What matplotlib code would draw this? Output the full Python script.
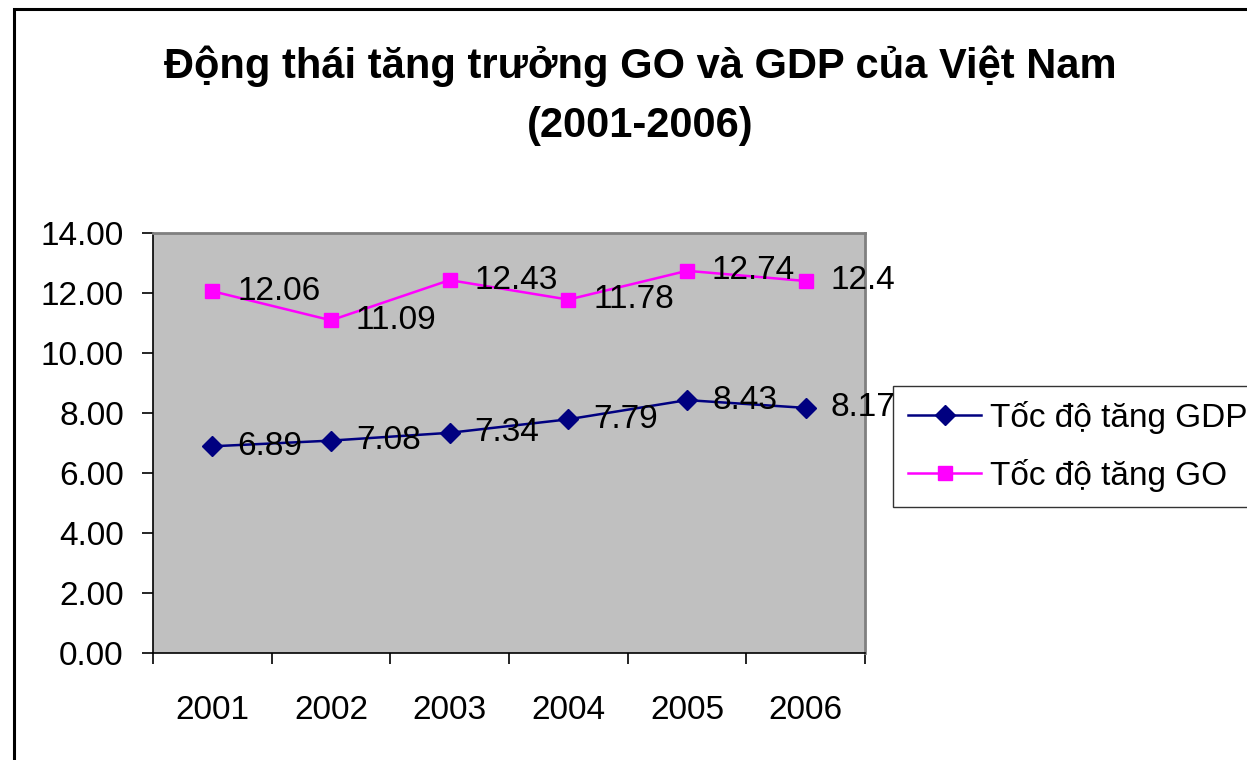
import numpy as np
import matplotlib
matplotlib.use("Agg")
import matplotlib.pyplot as plt
from matplotlib.patches import Rectangle

plt.rcParams['font.family'] = ['Liberation Sans', 'DejaVu Sans']

years = ['2001', '2002', '2003', '2004', '2005', '2006']
gdp = [6.89, 7.08, 7.34, 7.79, 8.43, 8.17]
go = [12.06, 11.09, 12.43, 11.78, 12.74, 12.4]
gdp_labels = ['6.89', '7.08', '7.34', '7.79', '8.43', '8.17']
go_labels = ['12.06', '11.09', '12.43', '11.78', '12.74', '12.4']
title_line1 = 'Động thái tăng trưởng GO và GDP của Việt Nam'
title_line2 = '(2001-2006)'
name_gdp = 'Tốc độ tăng GDP'
name_go = 'Tốc độ tăng GO'

W, H = 1247, 760
fig = plt.figure(figsize=(W / 100, H / 100), dpi=100)

# outer border
fig.patches.append(Rectangle((14 / W, -0.1), 1.2, 1.1 - 9 / H, transform=fig.transFigure,
                             fill=False, edgecolor='black', linewidth=2.2, zorder=0))

ax = fig.add_axes([153 / W, 1 - 653 / H, 712 / W, 420 / H])
ax.set_facecolor('#C0C0C0')
x = np.arange(len(years))

ax.plot(x, gdp, color='#000080', marker='D', markersize=10.5, linewidth=1.8,
        label=name_gdp, clip_on=False, zorder=3)
ax.plot(x, go, color='#FF00FF', marker='s', markersize=10.5, linewidth=1.8,
        label=name_go, clip_on=False, zorder=3)

fs = 24
for xi, v, s in zip(x, gdp, gdp_labels):
    ax.annotate(s, (xi, v), xytext=(18, 0), textcoords='offset points',
                ha='left', va='center', fontsize=fs, zorder=4, annotation_clip=False)
for xi, v, s in zip(x, go, go_labels):
    ax.annotate(s, (xi, v), xytext=(18, 0), textcoords='offset points',
                ha='left', va='center', fontsize=fs, zorder=4, annotation_clip=False)

ax.set_xlim(-0.5, len(years) - 0.5)
ax.set_ylim(0, 14)
ax.set_yticks(np.arange(0, 14.01, 2))
ax.set_yticklabels([f'{v:.2f}' for v in np.arange(0, 14.01, 2)])
ax.set_xticks(np.arange(-0.5, len(years), 1))
ax.set_xticklabels([''] * (len(years) + 1))
ax.set_xticks(x, minor=True)
ax.set_xticklabels(years, minor=True)
ax.tick_params(axis='x', which='major', length=8, width=1.2, direction='out')
ax.tick_params(axis='x', which='minor', length=0, pad=30, labelsize=fs)
ax.tick_params(axis='y', length=8, width=1.2, direction='out', pad=13, labelsize=fs)

for side in ['top', 'right']:
    ax.spines[side].set_color('#808080')
    ax.spines[side].set_linewidth(2)
for side in ['left', 'bottom']:
    ax.spines[side].set_color('black')
    ax.spines[side].set_linewidth(1.2)

fig.text(640 / W, 1 - 66 / H, title_line1, ha='center', va='center',
         fontsize=30, fontweight='bold')
fig.text(640 / W, 1 - 126 / H, title_line2, ha='center', va='center',
         fontsize=30, fontweight='bold')

leg = fig.legend(loc='upper left', bbox_to_anchor=(893 / W, 1 - 386 / H),
                 bbox_transform=fig.transFigure, fontsize=fs, frameon=True,
                 fancybox=False, borderaxespad=0, borderpad=0.45,
                 handlelength=2.2, handletextpad=0.25, labelspacing=0.75)
leg.get_frame().set_edgecolor('black')
leg.get_frame().set_linewidth(1.0)

fig.savefig('out.png', dpi=100)
